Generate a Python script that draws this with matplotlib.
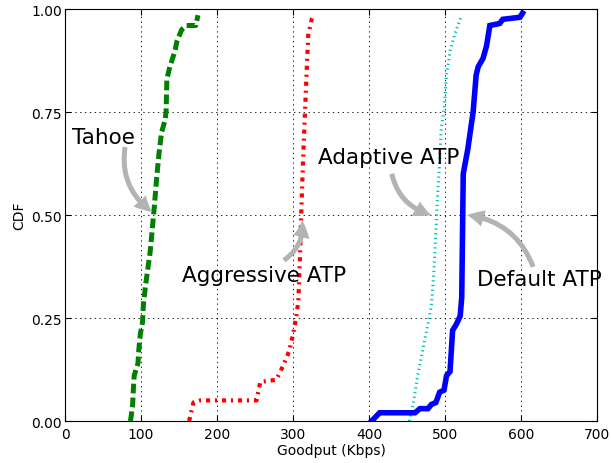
import matplotlib
matplotlib.use('Agg')
import matplotlib.pyplot as plt

plt.rcParams['lines.scale_dashes'] = False

# goodput CDFs (Kbps)
tahoe_x = [86, 87, 89, 90, 91, 96, 97, 99, 102, 103, 106, 109, 112, 114, 117.5, 120.6,
           123.7, 127, 131.6, 133, 134, 138, 145, 147, 153.5, 160, 172, 175]
tahoe_y = [0, 0.01, 0.04, 0.08, 0.11, 0.14, 0.17, 0.21, 0.24, 0.28, 0.33, 0.37, 0.41, 0.45,
           0.52, 0.59, 0.65, 0.70, 0.73, 0.75, 0.83, 0.86, 0.90, 0.92, 0.95, 0.96, 0.96, 0.985]

aggr_x = [163, 164, 169, 178, 252, 257, 278, 287, 295, 300, 304, 307, 309, 311, 313.6,
          316, 318, 320, 324.6, 326]
aggr_y = [0, 0.005, 0.045, 0.05, 0.05, 0.095, 0.1, 0.134, 0.17, 0.21, 0.25, 0.29, 0.39,
          0.515, 0.65, 0.76, 0.85, 0.936, 0.975, 0.98]

adapt_x = [453, 458, 464, 471, 478, 482, 485, 487, 489, 491, 493, 495, 499, 502, 507, 513, 522]
adapt_y = [0, 0.04, 0.11, 0.175, 0.24, 0.28, 0.35, 0.42, 0.5, 0.57, 0.63, 0.71, 0.76,
           0.84, 0.9, 0.94, 0.985]

default_x = [403.5, 414, 460.5, 467, 477.6, 482, 488, 493, 498.7, 502, 506.6, 510, 515,
             520, 522, 524, 530, 537, 541, 543.7, 550, 554.6, 559, 572, 576, 598.7, 602]
default_y = [0, 0.02, 0.02, 0.03, 0.03, 0.04, 0.045, 0.07, 0.075, 0.11, 0.12, 0.22, 0.235,
             0.255, 0.30, 0.6, 0.66, 0.75, 0.84, 0.86, 0.88, 0.91, 0.96, 0.965, 0.975, 0.98, 0.99]

# label text, text position, arrow tail, arrow head
labels = [
    ('Tahoe', (51, 0.69), (79, 0.665), (114.5, 0.507)),
    ('Aggressive ATP', (262, 0.354), (288, 0.39), (312, 0.487)),
    ('Adaptive ATP', (426, 0.64), (430, 0.60), (482, 0.5)),
    ('Default ATP', (624, 0.345), (616, 0.374), (529, 0.5)),
]

fig = plt.figure(figsize=(6.11, 4.64), dpi=100)
ax = fig.add_axes([0.1064, 0.0905, 0.8707, 0.8879])

ax.plot(tahoe_x, tahoe_y, color='g', lw=3.6, dashes=(7, 3))
ax.plot(aggr_x, aggr_y, color='r', lw=3, dashes=(3, 3.5, 1.5, 3.5))
ax.plot(adapt_x, adapt_y, color='c', lw=2.2, dashes=(0.9, 2.5))
ax.plot(default_x, default_y, color='b', lw=4, solid_joinstyle='miter')

for txt, tpos, tail, head in labels:
    ax.text(tpos[0], tpos[1], txt, fontsize=15.5, ha='center', va='center')
    ax.annotate('', xy=head, xytext=tail,
                arrowprops=dict(arrowstyle='simple,head_length=0.6,head_width=0.6,tail_width=0.18',
                                mutation_scale=20, color='0.7', lw=0,
                                connectionstyle='arc3,rad=0.3',
                                shrinkA=0, shrinkB=0))

ax.set_xlim(0, 700)
ax.set_ylim(0, 1)
ax.set_xticks(range(0, 701, 100))
ax.set_yticks([0, 0.25, 0.5, 0.75, 1.0])
ax.set_yticklabels(['0.00', '0.25', '0.50', '0.75', '1.00'])
ax.tick_params(direction='in', top=True, right=True, length=4, labelsize=10)
ax.tick_params(axis='y', pad=2)
ax.tick_params(axis='x', pad=4)
ax.grid(True, color='k', lw=0.6, dashes=(1, 2.5))
ax.set_xlabel('Goodput (Kbps)', fontsize=10, labelpad=2)
ax.set_ylabel('CDF', fontsize=10, labelpad=4)

fig.savefig('out.png', dpi=100)
